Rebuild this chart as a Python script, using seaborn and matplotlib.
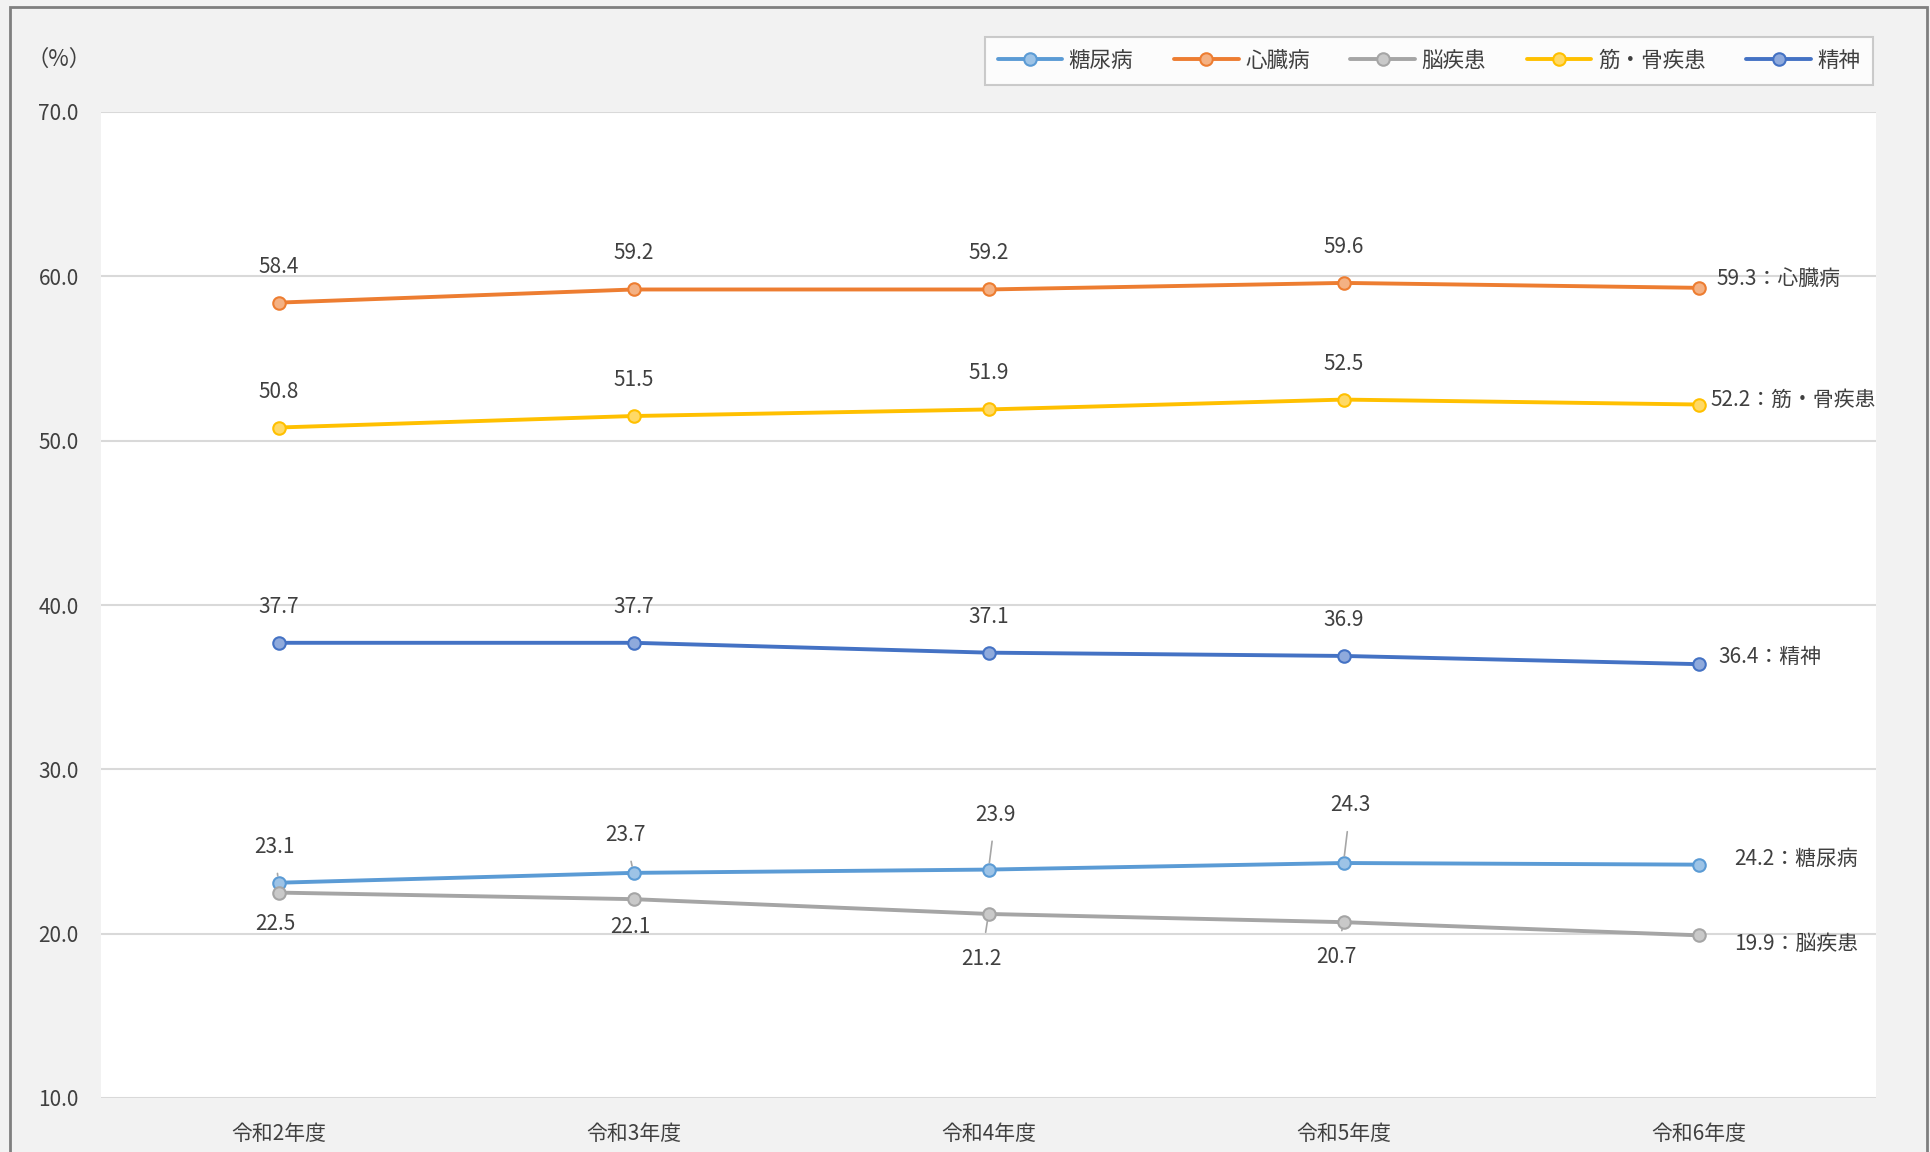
import matplotlib
matplotlib.use("Agg")
import matplotlib.pyplot as plt
import matplotlib.patches as patches
import seaborn as sns
import pandas as pd

# data
years = ["令和2年度", "令和3年度", "令和4年度", "令和5年度", "令和6年度"]
series_names = ["糖尿病", "心臓病", "脳疾患", "筋・骨疾患", "精神"]
diabetes = [23.1, 23.7, 23.9, 24.3, 24.2]
heart = [58.4, 59.2, 59.2, 59.6, 59.3]
brain = [22.5, 22.1, 21.2, 20.7, 19.9]
muscle_bone = [50.8, 51.5, 51.9, 52.5, 52.2]
mental = [37.7, 37.7, 37.1, 36.9, 36.4]

line_colors = ["#5b9bd5", "#ed7d31", "#a5a5a5", "#ffc000", "#4472c4"]
face_colors = ["#9dc3e6", "#f4b183", "#c9c9c9", "#ffd966", "#8faadc"]

# label offsets in pixels (dx, dy, leader line?) for the first four points
default_off = [(0, 36, False)] * 4
label_offsets = {
    "糖尿病": [(-4, 36, True), (-8, 38, True), (7, 55, True), (7, 58, True)],
    "心臓病": default_off,
    "脳疾患": [(-3, -31, False), (-3, -28, False), (-7, -45, True), (-7, -35, True)],
    "筋・骨疾患": default_off,
    "精神": default_off,
}
# end label offsets (dx, dy)
end_offsets = {
    "糖尿病": (36, 6),
    "心臓病": (18, 9),
    "脳疾患": (36, -9),
    "筋・骨疾患": (12, 5),
    "精神": (20, 7),
}

values = [diabetes, heart, brain, muscle_bone, mental]

sns.set_style("white")
plt.rcParams['font.family'] = ['Noto Sans CJK JP', 'DejaVu Sans']
text_color = "#404040"

fig = plt.figure(figsize=(19.30, 11.52), dpi=100, facecolor="#f2f2f2")
ax = fig.add_axes([101 / 1930, 1 - 1098 / 1152, (1876 - 101) / 1930, (1098 - 112) / 1152])
ax.set_facecolor("white")

for name, vals, lc, fc in zip(series_names, values, line_colors, face_colors):
    df = pd.DataFrame({"year": years, "value": vals})
    sns.lineplot(data=df, x="year", y="value", ax=ax, color=lc, linewidth=2.8,
                 marker="o", markersize=9, markerfacecolor=fc, markeredgecolor=lc,
                 markeredgewidth=1.5, label=name, sort=False)
    offs = label_offsets[name]
    for i in range(4):
        dx, dy, leader = offs[i]
        ap = None
        if leader:
            ap = dict(arrowstyle="-", color="#a6a6a6", lw=1.2, shrinkA=9, shrinkB=5)
        ax.annotate(f"{vals[i]:.1f}", xy=(i, vals[i]), xytext=(dx, dy),
                    textcoords="offset pixels", ha="center", va="center",
                    fontsize=15, color=text_color, arrowprops=ap)
    edx, edy = end_offsets[name]
    ax.annotate(f"{vals[4]:.1f}：{name}", xy=(4, vals[4]), xytext=(edx, edy),
                textcoords="offset pixels", ha="left", va="center",
                fontsize=15, color=text_color)

ax.set_xlim(-0.5, 4.5)
ax.set_ylim(10, 70)
ax.set_yticks(range(10, 71, 10))
ax.set_yticklabels([f"{v:.1f}" for v in range(10, 71, 10)])
ax.grid(axis="y", color="#d9d9d9", linewidth=1.5)
ax.set_axisbelow(True)
for s in ax.spines.values():
    s.set_visible(False)
ax.tick_params(axis="both", length=0, labelsize=15, labelcolor=text_color)
ax.tick_params(axis="y", pad=16)
ax.tick_params(axis="x", pad=18)
ax.set_xlabel("")
ax.set_ylabel("")

handles, labels = ax.get_legend_handles_labels()
ax.get_legend().remove()
leg = fig.legend(handles, labels, ncol=5, loc="center",
                 bbox_to_anchor=(((986 + 1872) / 2) / 1930, 1 - 61 / 1152),
                 fontsize=15.5, frameon=True, fancybox=False, edgecolor="#bfbfbf",
                 handlelength=3.0, columnspacing=1.9, handletextpad=0.3,
                 borderpad=0.6)
leg.get_frame().set_linewidth(1.5)
for t in leg.get_texts():
    t.set_color(text_color)

fig.text(26 / 1930, 1 - 59 / 1152, "（%）", fontsize=16, color=text_color,
         ha="left", va="center")

fig.patches.append(patches.Rectangle((10 / 1930, -0.01), (1927 - 10) / 1930, 1 - 7 / 1152 + 0.01,
                                     transform=fig.transFigure, fill=False,
                                     edgecolor="#7f7f7f", linewidth=2))

fig.savefig("out.png", dpi=100, facecolor=fig.get_facecolor())
